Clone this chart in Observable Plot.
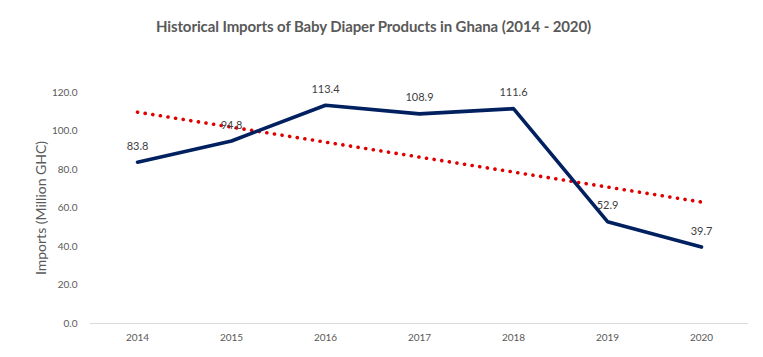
<!DOCTYPE html>
<html><head><meta charset="utf-8">
<script src="https://cdn.jsdelivr.net/npm/d3@7"></script>
<script src="https://cdn.jsdelivr.net/npm/@observablehq/plot@0.6"></script>
<style>
body{margin:0;background:#fff;font-family:Lato,"Open Sans",sans-serif;}
#title{height:55px;box-sizing:border-box;padding-top:17px;text-align:center;font-weight:bold;font-size:15px;color:#595959;padding-right:16px;letter-spacing:-0.1px;}
</style></head>
<body>
<div id="title">Historical Imports of Baby Diaper Products in Ghana (2014 - 2020)</div>
<div id="chart"></div>
<script>
const years = [2014, 2015, 2016, 2017, 2018, 2019, 2020];
const imports = [83.8, 94.8, 113.4, 108.9, 111.6, 52.9, 39.7];
const yTicks = [0, 20, 40, 60, 80, 100, 120];
const yLabel = "Imports (Million GHC)";

const data = years.map((year, i) => ({year, value: imports[i]}));

const chart = Plot.plot({
  width: 763,
  height: 302,
  marginLeft: 90,
  marginRight: 15,
  marginTop: 37,
  marginBottom: 34,
  style: {fontFamily: "Lato, 'Open Sans', sans-serif", fontSize: "10px", color: "#595959", background: "#fff"},
  x: {domain: [2013.5, 2020.5], ticks: years, tickFormat: "d", tickSize: 0, tickPadding: 10, label: null},
  y: {domain: [0, 120], ticks: yTicks, tickFormat: ".1f", tickSize: 0, tickPadding: 13,
      label: yLabel, labelArrow: "none", labelAnchor: "center", labelOffset: 54},
  marks: [
    Plot.ruleY([0], {stroke: "#d9d9d9", strokeWidth: 1}),
    Plot.linearRegressionY(data, {x: "year", y: "value", ci: 0, stroke: "#e00000", strokeWidth: 3.6,
      strokeDasharray: "0.1 7.6", strokeLinecap: "round"}),
    Plot.line(data, {x: "year", y: "value", stroke: "#002060", strokeWidth: 3.6, strokeLinejoin: "miter"}),
    Plot.text(data, {x: "year", y: "value", text: d => d.value.toFixed(1), dy: -16, fill: "#404040", fontSize: 11})
  ]
});
document.getElementById("chart").appendChild(chart);
chart.querySelectorAll("text").forEach(t => {
  if (t.textContent.includes("Imports")) {
    t.textContent = yLabel;
    t.style.fontSize = "14px";
    t.setAttribute("fill", "#595959");
  }
});
</script>
</body></html>
